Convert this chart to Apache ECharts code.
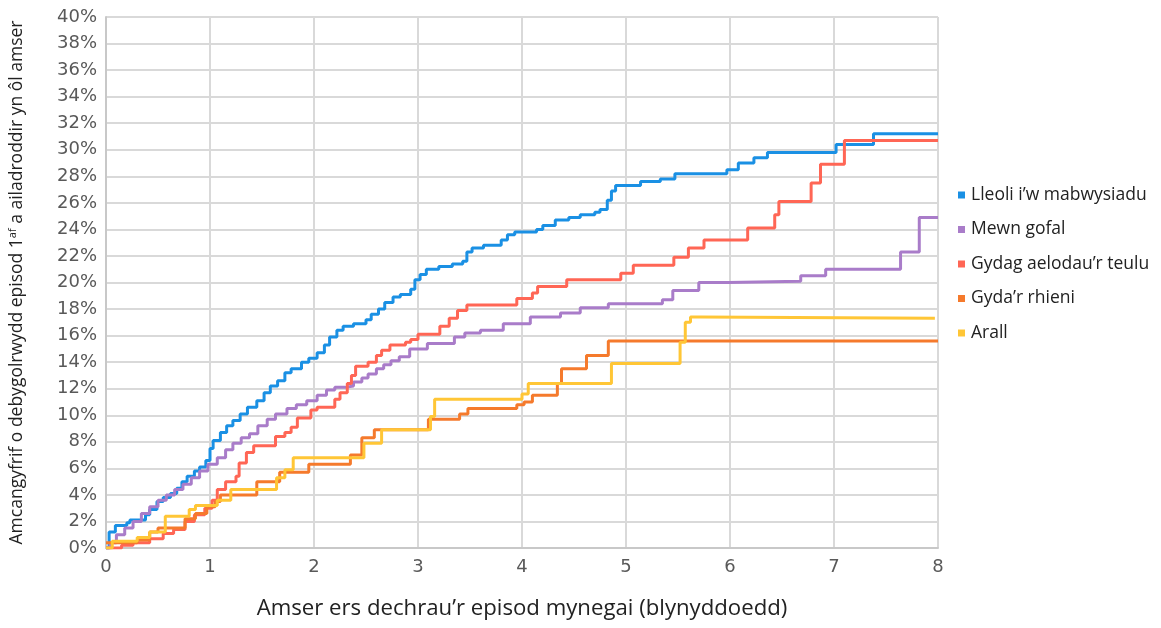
<!DOCTYPE html>
<html>
<head>
<meta charset="utf-8">
<script src="https://cdn.jsdelivr.net/npm/echarts@6/dist/echarts.min.js"></script>
<style>
  html, body { margin: 0; padding: 0; background: #fff; }
  #chart { width: 1161px; height: 628px; }
</style>
</head>
<body>
<div id="chart"></div>
<script>
// [blynyddoedd, %]
var lleoli = [[0,0],[0.03,1.2],[0.09,1.7],[0.2,1.9],[0.23,2.1],[0.38,2.5],[0.42,2.9],[0.49,3.5],[0.55,3.8],[0.62,4.1],[0.68,4.5],[0.73,5.0],[0.78,5.4],[0.85,5.8],[0.9,6.1],[0.96,6.6],[1.0,7.5],[1.03,8.1],[1.1,8.7],[1.16,9.2],[1.22,9.6],[1.29,10.1],[1.36,10.6],[1.45,11.1],[1.52,11.7],[1.58,12.2],[1.65,12.6],[1.72,13.2],[1.78,13.5],[1.88,14.0],[1.95,14.3],[2.03,14.7],[2.1,15.3],[2.15,15.9],[2.22,16.4],[2.28,16.7],[2.38,16.9],[2.5,17.2],[2.55,17.6],[2.62,18.0],[2.68,18.5],[2.76,18.9],[2.83,19.1],[2.93,19.5],[2.97,20.2],[3.02,20.6],[3.08,21.0],[3.2,21.2],[3.33,21.4],[3.43,21.6],[3.47,22.3],[3.52,22.6],[3.63,22.8],[3.8,23.2],[3.86,23.6],[3.93,23.8],[4.14,24.0],[4.2,24.3],[4.32,24.7],[4.45,24.9],[4.56,25.1],[4.7,25.3],[4.75,25.5],[4.82,26.2],[4.86,26.9],[4.9,27.3],[5.14,27.6],[5.33,27.8],[5.47,28.2],[5.97,28.5],[6.08,29.0],[6.23,29.4],[6.36,29.8],[7.02,30.4],[7.38,31.2],[8.0,31.2]]
var gofal = [[0,0],[0.04,0.4],[0.1,1.0],[0.18,1.5],[0.26,2.0],[0.34,2.6],[0.42,3.1],[0.5,3.6],[0.58,4.0],[0.66,4.4],[0.74,4.8],[0.82,5.3],[0.9,5.8],[0.98,6.3],[1.07,6.8],[1.15,7.4],[1.22,7.9],[1.3,8.3],[1.38,8.6],[1.46,9.2],[1.55,9.7],[1.63,10.1],[1.74,10.5],[1.83,10.8],[1.93,11.1],[2.03,11.5],[2.12,11.9],[2.2,12.1],[2.3,12.2],[2.38,12.5],[2.46,12.8],[2.52,13.1],[2.6,13.5],[2.67,13.8],[2.74,14.1],[2.82,14.4],[2.92,15.0],[3.09,15.4],[3.35,15.9],[3.45,16.2],[3.6,16.4],[3.82,16.9],[4.08,17.4],[4.37,17.7],[4.56,18.1],[4.83,18.4],[5.35,18.7],[5.45,19.4],[5.7,20.0],[5.98,20.1],[6.68,20.5],[6.92,21.0],[7.64,22.3],[7.82,24.9],[8.0,24.9]]
var teulu = [[0,0],[0.15,0.2],[0.26,0.4],[0.42,0.7],[0.55,1.1],[0.65,1.4],[0.76,2.0],[0.85,2.5],[0.95,3.0],[1.02,3.6],[1.07,4.4],[1.15,5.0],[1.25,5.4],[1.28,6.4],[1.35,7.2],[1.42,7.7],[1.63,8.4],[1.72,8.7],[1.78,9.1],[1.84,9.8],[1.97,10.4],[2.03,10.6],[2.2,11.2],[2.25,11.7],[2.32,12.4],[2.36,13.0],[2.4,13.7],[2.52,14.0],[2.6,14.5],[2.65,14.9],[2.73,15.3],[2.88,15.5],[2.93,15.7],[3.0,16.1],[3.21,16.7],[3.3,17.3],[3.38,17.9],[3.47,18.3],[3.95,18.8],[4.1,19.2],[4.15,19.7],[4.43,20.2],[4.95,20.7],[5.07,21.3],[5.46,21.9],[5.6,22.6],[5.75,23.2],[6.17,24.1],[6.43,25.1],[6.47,26.1],[6.78,27.5],[6.87,28.9],[7.1,30.7],[8.0,30.7]]
var rhieni = [[0,0.4],[0.3,0.6],[0.42,1.2],[0.5,1.5],[0.76,2.2],[0.86,2.6],[0.97,3.1],[1.05,3.5],[1.1,4.0],[1.45,5.0],[1.67,5.7],[1.95,6.3],[2.35,7.0],[2.46,8.3],[2.58,8.9],[3.1,9.7],[3.4,10.1],[3.48,10.5],[3.95,10.8],[4.02,11.0],[4.1,11.5],[4.34,12.4],[4.38,13.5],[4.62,14.5],[4.83,15.6],[8.0,15.6]]
var arall = [[0,0],[0.06,0.5],[0.3,0.8],[0.42,1.2],[0.57,2.4],[0.8,2.9],[0.86,3.2],[1.07,3.6],[1.2,4.4],[1.64,5.3],[1.72,5.9],[1.8,6.8],[2.48,7.9],[2.65,8.9],[3.12,9.9],[3.16,11.2],[4.0,11.6],[4.06,12.4],[4.86,13.9],[5.52,15.5],[5.57,17.0],[5.62,17.4],[5.72,17.3],[7.97,17.3]]

var names = ['Lleoli i\u2019w mabwysiadu', 'Mewn gofal', 'Gydag aelodau\u2019r teulu', 'Gyda\u2019r rhieni', 'Arall']
var colors = ['#1a90e4', '#a97cc9', '#ff6655', '#f57a2c', '#ffc636']
var xTicks = [0, 1, 2, 3, 4, 5, 6, 7, 8]

var chart = echarts.init(document.getElementById('chart'))

function line(name, data, color) {
  return {
    name: name,
    type: 'line',
    step: 'end',
    data: data,
    symbol: 'none',
    lineStyle: { color: color, width: 3 },
    itemStyle: { color: color },
    animation: false
  }
}

chart.setOption({
  color: colors,
  grid: { left: 106, right: 223, top: 17, bottom: 80, outerBoundsMode: 'none' },
  legend: {
    orient: 'vertical',
    left: 953,
    top: 181,
    icon: 'rect',
    itemWidth: 7,
    itemHeight: 7,
    itemGap: 16.5,
    textStyle: { fontFamily: 'Open Sans', fontSize: 17.5, color: '#222', padding: [0, 0, 0, 1] },
    data: names
  },
  xAxis: {
    type: 'value',
    min: xTicks[0],
    max: xTicks[xTicks.length - 1],
    interval: 1,
    name: 'Amser ers dechrau\u2019r episod mynegai (blynyddoedd)',
    nameLocation: 'middle',
    nameGap: 50,
    nameTextStyle: { fontFamily: 'Open Sans', fontSize: 22.2, color: '#222' },
    axisLine: { lineStyle: { color: '#c8c8c8', width: 2 } },
    axisTick: { show: false },
    axisLabel: { fontFamily: 'DejaVu Sans', fontSize: 18, color: '#595959', margin: 10 },
    splitLine: { lineStyle: { color: '#d9d9d9', width: 2 } }
  },
  yAxis: {
    type: 'value',
    min: 0,
    max: 40,
    interval: 2,
    name: '{a|Amcangyfrif o debygolrwydd episod 1}{s|af}{a| a ailadroddir yn \u00f4l amser}',
    nameLocation: 'middle',
    nameGap: 78,
    nameTextStyle: {
      rich: {
        a: { fontFamily: 'Open Sans', fontSize: 17.5, color: '#222', lineHeight: 22 },
        s: { fontFamily: 'Open Sans', fontSize: 11, color: '#222', lineHeight: 22, padding: [0, 0, 9, 0] }
      }
    },
    axisLine: { show: true, lineStyle: { color: '#c8c8c8', width: 2 } },
    axisTick: { show: false },
    axisLabel: { fontFamily: 'DejaVu Sans', fontSize: 18, color: '#595959', margin: 9, formatter: '{value}%' },
    splitLine: { lineStyle: { color: '#d9d9d9', width: 2 } }
  },
  series: [
    line(names[0], lleoli, colors[0]),
    line(names[1], gofal, colors[1]),
    line(names[2], teulu, colors[2]),
    line(names[3], rhieni, colors[3]),
    line(names[4], arall, colors[4])
  ]
})
</script>
</body>
</html>
